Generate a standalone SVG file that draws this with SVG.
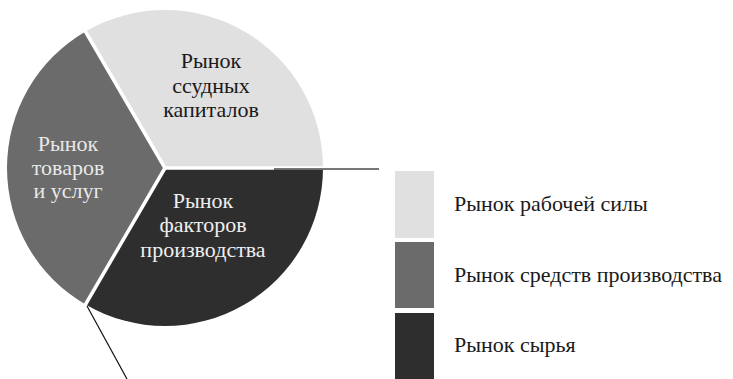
<svg xmlns="http://www.w3.org/2000/svg" width="733" height="379" viewBox="0 0 733 379">
<defs>
<style>
.sep{stroke:#fff;stroke-width:3.5;fill:none}
</style>
</defs>
<rect width="733" height="379" fill="#fff"/>
<g id="slice-loan">
<path d="M165,168 L86,31.17 A158,158 0 0 1 323,168 Z" fill="#e0e0e0"/>
<text text-anchor="middle" font-family="Liberation Serif" font-size="22" x="211" y="68" fill="#1a1a1a">Рынок</text>
<text text-anchor="middle" font-family="Liberation Serif" font-size="22" x="211" y="93" fill="#1a1a1a">ссудных</text>
<text text-anchor="middle" font-family="Liberation Serif" font-size="22" x="211" y="117" fill="#1a1a1a">капиталов</text>
</g>
<g id="slice-goods">
<path d="M165,168 L86,304.83 A158,158 0 0 1 86,31.17 Z" fill="#6b6b6b"/>
<text text-anchor="middle" font-family="Liberation Serif" font-size="22" x="68" y="151" fill="#e8e8e8">Рынок</text>
<text text-anchor="middle" font-family="Liberation Serif" font-size="22" x="68" y="175" fill="#e8e8e8">товаров</text>
<text text-anchor="middle" font-family="Liberation Serif" font-size="22" x="68" y="198" fill="#e8e8e8">и услуг</text>
</g>
<g id="slice-factors">
<path d="M165,168 L323,168 A158,158 0 0 1 86,304.83 Z" fill="#2e2e2e"/>
<text text-anchor="middle" font-family="Liberation Serif" font-size="22" x="203" y="208" fill="#eeeeee">Рынок</text>
<text text-anchor="middle" font-family="Liberation Serif" font-size="22" x="203" y="232" fill="#eeeeee">факторов</text>
<text text-anchor="middle" font-family="Liberation Serif" font-size="22" x="203" y="257" fill="#eeeeee">производства</text>
</g>
<g id="connectors">
<line class="sep" x1="165" y1="168" x2="326" y2="168"/>
<line class="sep" x1="165" y1="168" x2="84" y2="29"/>
<line class="sep" x1="165" y1="168" x2="84" y2="307"/>
<line x1="274" y1="169" x2="379" y2="169" stroke="#4a4a4a" stroke-width="1.6"/>
<line x1="87" y1="306" x2="127" y2="379" stroke="#111" stroke-width="1.2"/>
</g>
<g id="legend-labour">
<rect x="395" y="171" width="39" height="67" fill="#e0e0e0"/>
<text font-family="Liberation Serif" font-size="22" x="454" y="211" fill="#1a1a1a">Рынок рабочей силы</text>
</g>
<g id="legend-means">
<rect x="395" y="242" width="39" height="66" fill="#6b6b6b"/>
<text font-family="Liberation Serif" font-size="22" x="454" y="282" fill="#1a1a1a">Рынок средств производства</text>
</g>
<g id="legend-raw">
<rect x="395" y="313" width="39" height="66" fill="#2e2e2e"/>
<text font-family="Liberation Serif" font-size="22" x="454" y="352" fill="#1a1a1a">Рынок сырья</text>
</g>
</svg>
